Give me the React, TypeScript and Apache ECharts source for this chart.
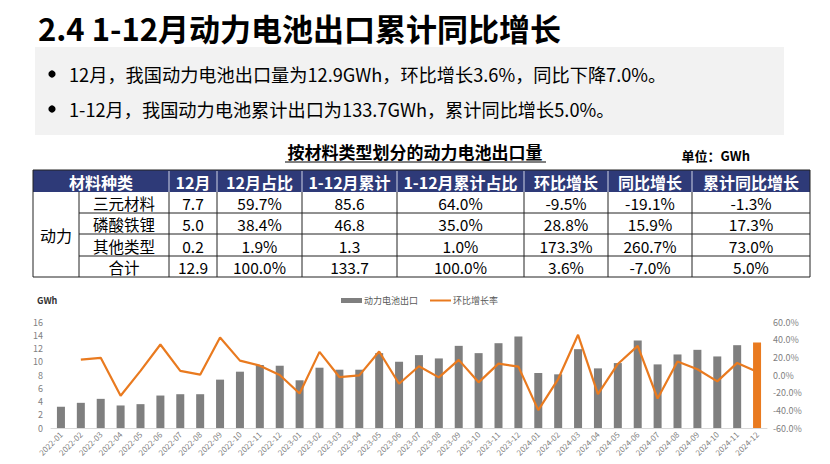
import React, { useEffect, useRef } from "react";
import * as echarts from "echarts";

// ---------- data ----------
const titleText = "2.4 1-12月动力电池出口累计同比增长";
const bulletLines = [
  "12月，我国动力电池出口量为12.9GWh，环比增长3.6%，同比下降7.0%。",
  "1-12月，我国动力电池累计出口为133.7GWh，累计同比增长5.0%。",
];
const tableTitle = "按材料类型划分的动力电池出口量";
const unitText = "单位：GWh";
const tableHeaders = ["材料种类", "12月", "12月占比", "1-12月累计", "1-12月累计占比", "环比增长", "同比增长", "累计同比增长"];
const groupLabel = "动力";
const materialTypes = ["三元材料", "磷酸铁锂", "其他类型", "合计"];
const monthVolume = ["7.7", "5.0", "0.2", "12.9"];
const monthShare = ["59.7%", "38.4%", "1.9%", "100.0%"];
const ytdVolume = ["85.6", "46.8", "1.3", "133.7"];
const ytdShare = ["64.0%", "35.0%", "1.0%", "100.0%"];
const momGrowthTable = ["-9.5%", "28.8%", "173.3%", "3.6%"];
const yoyGrowth = ["-19.1%", "15.9%", "260.7%", "-7.0%"];
const ytdYoyGrowth = ["-1.3%", "17.3%", "73.0%", "5.0%"];

const months = [
  "2022-01", "2022-02", "2022-03", "2022-04", "2022-05", "2022-06", "2022-07", "2022-08", "2022-09", "2022-10", "2022-11", "2022-12",
  "2023-01", "2023-02", "2023-03", "2023-04", "2023-05", "2023-06", "2023-07", "2023-08", "2023-09", "2023-10", "2023-11", "2023-12",
  "2024-01", "2024-02", "2024-03", "2024-04", "2024-05", "2024-06", "2024-07", "2024-08", "2024-09", "2024-10", "2024-11", "2024-12",
];
const exportVolume = [
  3.2, 3.8, 4.4, 3.4, 3.6, 4.9, 5.1, 5.1, 7.3, 8.5, 9.5, 9.4,
  7.2, 9.1, 8.8, 8.8, 11.3, 10.0, 11.0, 10.5, 12.4, 11.3, 12.8, 13.8,
  8.3, 8.1, 11.9, 9.0, 9.8, 13.2, 9.6, 11.1, 11.8, 10.8, 12.5, 12.9,
];
const momGrowth = [
  null, 17.5, 19.4, -23.5, 4.6, 34.5, 4.6, 0.4, 42.5, 16.3, 10.6, 0.0,
  -20.9, 26.2, -2.3, -0.4, 26.6, -9.9, 9.9, -2.7, 17.1, -8.3, 12.9, 9.5,
  -39.8, -4.6, 45.5, -21.6, 12.5, 33.0, -26.6, 15.2, 6.5, -7.2, 13.7, 3.6,
];
const seriesNames = ["动力电池出口", "环比增长率"];
const unitLabel = "GWh";

// ---------- layout / style ----------
const FONT = '"Noto Sans CJK SC", "Noto Sans", sans-serif';
const GRAY = "#7f7f7f";
const ORANGE = "#E97A1F";
const NAVY = "#2E3A78";
const colEdges = [33, 79, 169, 217, 302, 397, 524, 608, 692, 810];
const rowEdges = [170, 192, 213, 234, 256, 277];

function buildGraphics() {
  const els: any[] = [];
  // title
  els.push({ type: "text", x: 38, y: 27, style: { text: titleText, fill: "#000", fontSize: 31, fontWeight: "bold", fontFamily: FONT, textVerticalAlign: "middle" } });
  // gray box
  els.push({ type: "rect", shape: { x: 35, y: 47, width: 749, height: 88 }, style: { fill: "#f2f2f2" } });
  const bulletY = [74, 109];
  bulletLines.forEach((t, i) => {
    els.push({ type: "circle", shape: { cx: 52, cy: bulletY[i], r: 3.6 }, style: { fill: "#000" } });
    els.push({ type: "text", x: 69, y: bulletY[i], style: { text: t, fill: "#000", fontSize: 18.2, fontFamily: FONT, textVerticalAlign: "middle" } });
  });
  // table title
  els.push({ type: "text", x: 415, y: 151, style: { text: tableTitle, fill: "#000", fontSize: 17, fontWeight: "bold", fontFamily: FONT, textAlign: "center", textVerticalAlign: "middle" } });
  els.push({ type: "line", shape: { x1: 285, y1: 162, x2: 546, y2: 162 }, style: { stroke: "#000", lineWidth: 1.2 } });
  els.push({ type: "text", x: 750, y: 155, style: { text: unitText, fill: "#000", fontSize: 13, fontWeight: "bold", fontFamily: FONT, textAlign: "right", textVerticalAlign: "middle" } });

  // header
  const L = colEdges[0], R = colEdges[colEdges.length - 1];
  els.push({ type: "rect", shape: { x: L, y: rowEdges[0], width: R - L, height: rowEdges[1] - rowEdges[0] }, style: { fill: NAVY } });
  for (let c = 2; c < colEdges.length - 1; c++) {
    els.push({ type: "line", shape: { x1: colEdges[c], y1: rowEdges[0] + 1, x2: colEdges[c], y2: rowEdges[1] }, style: { stroke: "#d0d4e6", lineWidth: 1 } });
  }
  const hy = (rowEdges[0] + rowEdges[1]) / 2;
  const headerCenters = [(colEdges[0] + colEdges[2]) / 2];
  for (let c = 2; c < colEdges.length - 1; c++) headerCenters.push((colEdges[c] + colEdges[c + 1]) / 2);
  tableHeaders.forEach((h, i) => {
    els.push({ type: "text", x: headerCenters[i], y: hy + 0.5, style: { text: h, fill: "#fff", fontSize: 16, lineHeight: 17, fontWeight: "bold", fontFamily: FONT, textAlign: "center", textVerticalAlign: "middle" } });
  });
  // body borders
  const top = rowEdges[1], bot = rowEdges[rowEdges.length - 1];
  els.push({ type: "rect", shape: { x: L, y: rowEdges[0], width: R - L, height: bot - rowEdges[0] }, style: { fill: "none", stroke: "#222", lineWidth: 1 } });
  for (let r = 2; r < rowEdges.length - 1; r++) {
    els.push({ type: "line", shape: { x1: colEdges[1], y1: rowEdges[r], x2: R, y2: rowEdges[r] }, style: { stroke: "#222", lineWidth: 1 } });
  }
  for (let c = 1; c < colEdges.length - 1; c++) {
    els.push({ type: "line", shape: { x1: colEdges[c], y1: top, x2: colEdges[c], y2: bot }, style: { stroke: "#222", lineWidth: 1 } });
  }
  els.push({ type: "text", x: (colEdges[0] + colEdges[1]) / 2, y: (top + bot) / 2, style: { text: groupLabel, fill: "#000", fontSize: 16, lineHeight: 17, fontFamily: FONT, textAlign: "center", textVerticalAlign: "middle" } });
  const cols = [materialTypes, monthVolume, monthShare, ytdVolume, ytdShare, momGrowthTable, yoyGrowth, ytdYoyGrowth];
  cols.forEach((col, ci) => {
    const cx = (colEdges[ci + 1] + colEdges[ci + 2]) / 2;
    col.forEach((v, ri) => {
      const cy = (rowEdges[ri + 1] + rowEdges[ri + 2]) / 2;
      els.push({ type: "text", x: cx, y: cy + 0.5, style: { text: v, fill: "#000", fontSize: 15.5, lineHeight: 16, fontFamily: FONT, textAlign: "center", textVerticalAlign: "middle" } });
    });
  });
  // unit label of chart
  els.push({ type: "text", x: 37, y: 300, style: { text: unitLabel, fill: "#333", fontSize: 9, fontWeight: "bold", fontFamily: FONT, textVerticalAlign: "middle" } });
  return els;
}

export default function App() {
  const ref = useRef<HTMLDivElement>(null);
  useEffect(() => {
    document.body.style.margin = "0";
    const chart = echarts.init(ref.current!, null, { renderer: "svg" });
    const last = exportVolume.length - 1;
    chart.setOption({
      animation: false,
      backgroundColor: "#fff",
      textStyle: { fontFamily: FONT },
      graphic: { elements: buildGraphics() },
      legend: {
        left: 341,
        top: 296,
        itemGap: 11,
        itemWidth: 21,
        itemHeight: 5,
        padding: 0,
        textStyle: { fontSize: 9, color: "#595959", fontFamily: FONT, padding: [0, 0, 0, -3] },
        data: [
          { name: seriesNames[0], icon: "rect", itemStyle: { color: GRAY } },
          { name: seriesNames[1], itemStyle: { opacity: 0 }, lineStyle: { color: ORANGE, width: 2, opacity: 1 } },
        ],
      },
      grid: { left: 51, right: 63, top: 322, bottom: 36, containLabel: false },
      xAxis: {
        type: "category",
        data: months,
        axisLine: { lineStyle: { color: "#d9d9d9" } },
        axisTick: { show: false },
        axisLabel: { rotate: 45, fontSize: 8, color: "#7f7f7f", margin: 5, interval: 0 },
      },
      yAxis: [
        {
          type: "value",
          min: 0,
          max: 16,
          interval: 2,
          splitLine: { show: false },
          axisLine: { show: false },
          axisTick: { show: false },
          axisLabel: { fontSize: 9, color: "#7f7f7f", margin: 8 },
        },
        {
          type: "value",
          min: -60,
          max: 60,
          interval: 20,
          splitLine: { show: false },
          axisLine: { show: false },
          axisTick: { show: false },
          axisLabel: { fontSize: 9, color: "#7f7f7f", margin: 6, formatter: (v: number) => v.toFixed(1) + "%" },
        },
      ],
      series: [
        {
          name: seriesNames[0],
          type: "bar",
          barWidth: 8,
          itemStyle: { color: GRAY },
          data: exportVolume.map((v, i) => (i === last ? { value: v, itemStyle: { color: ORANGE } } : v)),
        },
        {
          name: seriesNames[1],
          type: "line",
          yAxisIndex: 1,
          symbol: "none",
          lineStyle: { color: ORANGE, width: 2.2 },
          itemStyle: { color: ORANGE },
          data: momGrowth.map((v) => (v === null ? "-" : v)),
        },
      ],
    });
    return () => chart.dispose();
  }, []);
  return <div ref={ref} style={{ width: 830, height: 464 }} />;
}
